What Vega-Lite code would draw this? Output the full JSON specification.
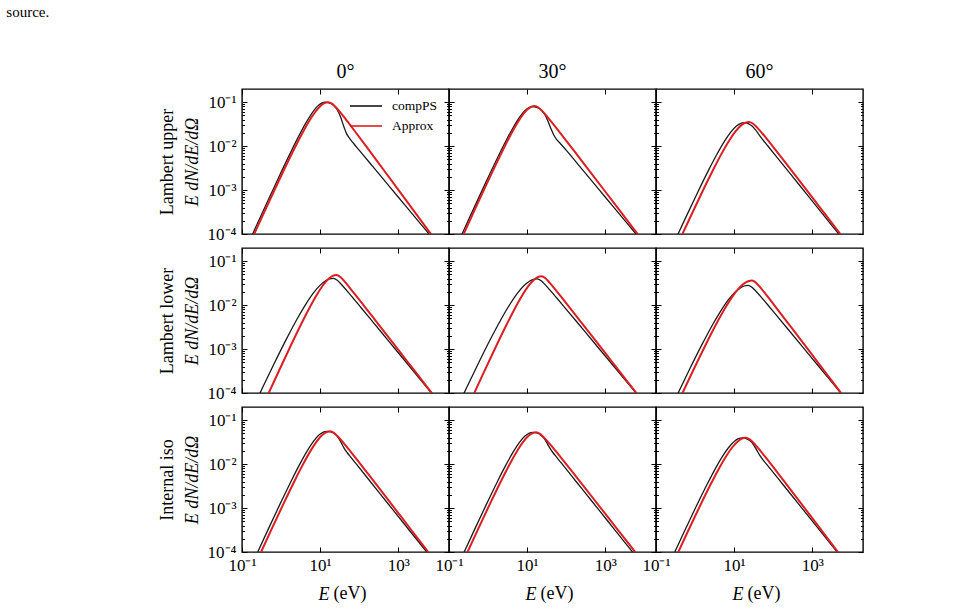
{
  "$schema": "https://vega.github.io/schema/vega-lite/v6.json",
  "background": "white",
  "padding": {"left": 6, "top": 4, "right": 10, "bottom": 4},
  "title": {"text": "source.", "anchor": "start", "frame": "group", "dx": -235.7, "fontSize": 15, "offset": 29, "baseline": "alphabetic"},
  "config": {
    "font": "Liberation Serif",
    "view": {"stroke": "black", "strokeWidth": 1.4},
    "axis": {"labelFont": "Liberation Serif", "labelFontSize": 17, "labelColor": "black", "titleFont": "Liberation Serif", "titleFontSize": 18, "titleFontWeight": "normal", "titleColor": "black", "tickColor": "black", "tickWidth": 1, "domain": false, "grid": false, "labelOverlap": false, "labelFlush": false, "minExtent": 0},
    "legend": {"labelFont": "Liberation Serif", "labelColor": "black"},
    "title": {"font": "Liberation Serif", "fontWeight": "normal", "color": "black"}
  },
  "datasets": {
    "spectra": [
      {"m":"upper","a":0,"s":"compPS","E":0.1072,"F":3.342e-5},{"m":"upper","a":0,"s":"compPS","E":0.2138,"F":1.294e-4},{"m":"upper","a":0,"s":"compPS","E":0.4266,"F":4.955e-4},{"m":"upper","a":0,"s":"compPS","E":0.8511,"F":1.862e-3},{"m":"upper","a":0,"s":"compPS","E":1.698,"F":6.761e-3},{"m":"upper","a":0,"s":"compPS","E":2.692,"F":0.01542},{"m":"upper","a":0,"s":"compPS","E":4.266,"F":0.03304},{"m":"upper","a":0,"s":"compPS","E":6.026,"F":0.05458},{"m":"upper","a":0,"s":"compPS","E":8.511,"F":0.08054},{"m":"upper","a":0,"s":"compPS","E":10.72,"F":0.09441},{"m":"upper","a":0,"s":"compPS","E":13.49,"F":0.1},{"m":"upper","a":0,"s":"compPS","E":16.98,"F":0.09661},{"m":"upper","a":0,"s":"compPS","E":21.38,"F":0.0871},{"m":"upper","a":0,"s":"compPS","E":26.92,"F":0.06918},{"m":"upper","a":0,"s":"compPS","E":33.88,"F":0.04467},{"m":"upper","a":0,"s":"compPS","E":40.74,"F":0.02754},{"m":"upper","a":0,"s":"compPS","E":47.86,"F":0.01905},{"m":"upper","a":0,"s":"compPS","E":57.54,"F":0.01479},{"m":"upper","a":0,"s":"compPS","E":72.44,"F":0.01148},{"m":"upper","a":0,"s":"compPS","E":100,"F":8.128e-3},{"m":"upper","a":0,"s":"compPS","E":251.2,"F":3.041e-3},{"m":"upper","a":0,"s":"compPS","E":631,"F":1.138e-3},{"m":"upper","a":0,"s":"compPS","E":1585,"F":4.266e-4},{"m":"upper","a":0,"s":"compPS","E":3981,"F":1.596e-4},{"m":"upper","a":0,"s":"compPS","E":6166,"F":1e-4},{"m":"upper","a":0,"s":"compPS","E":9550,"F":6.223e-5},
      {"m":"upper","a":0,"s":"Approx","E":0.1288,"F":4.027e-5},{"m":"upper","a":0,"s":"Approx","E":0.257,"F":1.545e-4},{"m":"upper","a":0,"s":"Approx","E":0.5129,"F":5.861e-4},{"m":"upper","a":0,"s":"Approx","E":1.023,"F":2.173e-3},{"m":"upper","a":0,"s":"Approx","E":2.042,"F":7.727e-3},{"m":"upper","a":0,"s":"Approx","E":3.236,"F":0.01722},{"m":"upper","a":0,"s":"Approx","E":5.129,"F":0.0359},{"m":"upper","a":0,"s":"Approx","E":7.244,"F":0.05754},{"m":"upper","a":0,"s":"Approx","E":10.23,"F":0.08222},{"m":"upper","a":0,"s":"Approx","E":12.88,"F":0.09506},{"m":"upper","a":0,"s":"Approx","E":16.22,"F":0.1},{"m":"upper","a":0,"s":"Approx","E":20.42,"F":0.09183},{"m":"upper","a":0,"s":"Approx","E":25.7,"F":0.07568},{"m":"upper","a":0,"s":"Approx","E":36.31,"F":0.0526},{"m":"upper","a":0,"s":"Approx","E":51.29,"F":0.03556},{"m":"upper","a":0,"s":"Approx","E":81.28,"F":0.0207},{"m":"upper","a":0,"s":"Approx","E":162.2,"F":9.12e-3},{"m":"upper","a":0,"s":"Approx","E":407.4,"F":3.02e-3},{"m":"upper","a":0,"s":"Approx","E":1023,"F":9.977e-4},{"m":"upper","a":0,"s":"Approx","E":2570,"F":3.289e-4},{"m":"upper","a":0,"s":"Approx","E":6457,"F":1.084e-4},{"m":"upper","a":0,"s":"Approx","E":16220,"F":3.573e-5},
      {"m":"upper","a":30,"s":"compPS","E":0.1096,"F":2.655e-5},{"m":"upper","a":30,"s":"compPS","E":0.2188,"F":1.028e-4},{"m":"upper","a":30,"s":"compPS","E":0.4365,"F":3.936e-4},{"m":"upper","a":30,"s":"compPS","E":0.871,"F":1.479e-3},{"m":"upper","a":30,"s":"compPS","E":1.738,"F":5.37e-3},{"m":"upper","a":30,"s":"compPS","E":2.754,"F":0.01225},{"m":"upper","a":30,"s":"compPS","E":4.365,"F":0.02624},{"m":"upper","a":30,"s":"compPS","E":6.166,"F":0.04335},{"m":"upper","a":30,"s":"compPS","E":8.71,"F":0.06397},{"m":"upper","a":30,"s":"compPS","E":10.96,"F":0.07499},{"m":"upper","a":30,"s":"compPS","E":13.8,"F":0.07943},{"m":"upper","a":30,"s":"compPS","E":17.38,"F":0.07674},{"m":"upper","a":30,"s":"compPS","E":21.88,"F":0.06918},{"m":"upper","a":30,"s":"compPS","E":27.54,"F":0.05495},{"m":"upper","a":30,"s":"compPS","E":33.88,"F":0.03802},{"m":"upper","a":30,"s":"compPS","E":40.74,"F":0.02512},{"m":"upper","a":30,"s":"compPS","E":47.86,"F":0.0182},{"m":"upper","a":30,"s":"compPS","E":57.54,"F":0.01413},{"m":"upper","a":30,"s":"compPS","E":72.44,"F":0.01122},{"m":"upper","a":30,"s":"compPS","E":100,"F":8.128e-3},{"m":"upper","a":30,"s":"compPS","E":251.2,"F":3.041e-3},{"m":"upper","a":30,"s":"compPS","E":631,"F":1.138e-3},{"m":"upper","a":30,"s":"compPS","E":1585,"F":4.266e-4},{"m":"upper","a":30,"s":"compPS","E":3981,"F":1.596e-4},{"m":"upper","a":30,"s":"compPS","E":6166,"F":1e-4},{"m":"upper","a":30,"s":"compPS","E":9550,"F":6.266e-5},
      {"m":"upper","a":30,"s":"Approx","E":0.123,"F":2.748e-5},{"m":"upper","a":30,"s":"Approx","E":0.2455,"F":1.064e-4},{"m":"upper","a":30,"s":"Approx","E":0.4898,"F":4.074e-4},{"m":"upper","a":30,"s":"Approx","E":0.9772,"F":1.531e-3},{"m":"upper","a":30,"s":"Approx","E":1.95,"F":5.559e-3},{"m":"upper","a":30,"s":"Approx","E":3.09,"F":0.01268},{"m":"upper","a":30,"s":"Approx","E":4.898,"F":0.02716},{"m":"upper","a":30,"s":"Approx","E":6.918,"F":0.04487},{"m":"upper","a":30,"s":"Approx","E":9.772,"F":0.06622},{"m":"upper","a":30,"s":"Approx","E":12.3,"F":0.07762},{"m":"upper","a":30,"s":"Approx","E":15.49,"F":0.08222},{"m":"upper","a":30,"s":"Approx","E":19.5,"F":0.07586},{"m":"upper","a":30,"s":"Approx","E":24.55,"F":0.06281},{"m":"upper","a":30,"s":"Approx","E":34.67,"F":0.04416},{"m":"upper","a":30,"s":"Approx","E":48.98,"F":0.0302},{"m":"upper","a":30,"s":"Approx","E":77.62,"F":0.0179},{"m":"upper","a":30,"s":"Approx","E":154.9,"F":8.091e-3},{"m":"upper","a":30,"s":"Approx","E":389,"F":2.78e-3},{"m":"upper","a":30,"s":"Approx","E":977.2,"F":9.528e-4},{"m":"upper","a":30,"s":"Approx","E":2455,"F":3.258e-4},{"m":"upper","a":30,"s":"Approx","E":6166,"F":1.112e-4},{"m":"upper","a":30,"s":"Approx","E":15490,"F":3.793e-5},
      {"m":"upper","a":60,"s":"compPS","E":0.2884,"F":6.295e-5},{"m":"upper","a":60,"s":"compPS","E":0.5754,"F":2.36e-4},{"m":"upper","a":60,"s":"compPS","E":1.148,"F":8.61e-4},{"m":"upper","a":60,"s":"compPS","E":2.291,"F":2.992e-3},{"m":"upper","a":60,"s":"compPS","E":3.631,"F":6.531e-3},{"m":"upper","a":60,"s":"compPS","E":5.754,"F":0.01321},{"m":"upper","a":60,"s":"compPS","E":8.128,"F":0.0206},{"m":"upper","a":60,"s":"compPS","E":11.48,"F":0.02871},{"m":"upper","a":60,"s":"compPS","E":14.45,"F":0.03273},{"m":"upper","a":60,"s":"compPS","E":18.2,"F":0.03428},{"m":"upper","a":60,"s":"compPS","E":22.91,"F":0.03273},{"m":"upper","a":60,"s":"compPS","E":28.84,"F":0.02884},{"m":"upper","a":60,"s":"compPS","E":35.48,"F":0.02344},{"m":"upper","a":60,"s":"compPS","E":43.65,"F":0.01799},{"m":"upper","a":60,"s":"compPS","E":54.95,"F":0.0138},{"m":"upper","a":60,"s":"compPS","E":72.44,"F":0.01023},{"m":"upper","a":60,"s":"compPS","E":177.8,"F":3.793e-3},{"m":"upper","a":60,"s":"compPS","E":446.7,"F":1.374e-3},{"m":"upper","a":60,"s":"compPS","E":1122,"F":4.966e-4},{"m":"upper","a":60,"s":"compPS","E":2818,"F":1.795e-4},{"m":"upper","a":60,"s":"compPS","E":4786,"F":1e-4},{"m":"upper","a":60,"s":"compPS","E":7244,"F":6.324e-5},
      {"m":"upper","a":60,"s":"Approx","E":0.3802,"F":6.516e-5},{"m":"upper","a":60,"s":"Approx","E":0.7586,"F":2.443e-4},{"m":"upper","a":60,"s":"Approx","E":1.514,"F":8.913e-4},{"m":"upper","a":60,"s":"Approx","E":3.02,"F":3.097e-3},{"m":"upper","a":60,"s":"Approx","E":4.786,"F":6.761e-3},{"m":"upper","a":60,"s":"Approx","E":7.586,"F":0.01368},{"m":"upper","a":60,"s":"Approx","E":10.72,"F":0.02133},{"m":"upper","a":60,"s":"Approx","E":15.14,"F":0.02972},{"m":"upper","a":60,"s":"Approx","E":19.05,"F":0.03388},{"m":"upper","a":60,"s":"Approx","E":23.99,"F":0.03548},{"m":"upper","a":60,"s":"Approx","E":30.2,"F":0.03273},{"m":"upper","a":60,"s":"Approx","E":38.02,"F":0.02716},{"m":"upper","a":60,"s":"Approx","E":53.7,"F":0.01914},{"m":"upper","a":60,"s":"Approx","E":75.86,"F":0.01312},{"m":"upper","a":60,"s":"Approx","E":120.2,"F":7.798e-3},{"m":"upper","a":60,"s":"Approx","E":239.9,"F":3.54e-3},{"m":"upper","a":60,"s":"Approx","E":602.6,"F":1.225e-3},{"m":"upper","a":60,"s":"Approx","E":1514,"F":4.217e-4},{"m":"upper","a":60,"s":"Approx","E":3802,"F":1.452e-4},{"m":"upper","a":60,"s":"Approx","E":9550,"F":4.989e-5},
      {"m":"lower","a":0,"s":"compPS","E":0.1738,"F":3.828e-5},{"m":"lower","a":0,"s":"compPS","E":0.3467,"F":1.403e-4},{"m":"lower","a":0,"s":"compPS","E":0.6918,"F":5.0e-4},{"m":"lower","a":0,"s":"compPS","E":1.38,"F":1.706e-3},{"m":"lower","a":0,"s":"compPS","E":2.754,"F":5.37e-3},{"m":"lower","a":0,"s":"compPS","E":4.365,"F":0.01072},{"m":"lower","a":0,"s":"compPS","E":6.918,"F":0.0195},{"m":"lower","a":0,"s":"compPS","E":9.772,"F":0.02786},{"m":"lower","a":0,"s":"compPS","E":13.8,"F":0.03581},{"m":"lower","a":0,"s":"compPS","E":17.38,"F":0.03945},{"m":"lower","a":0,"s":"compPS","E":21.88,"F":0.04074},{"m":"lower","a":0,"s":"compPS","E":27.54,"F":0.03673},{"m":"lower","a":0,"s":"compPS","E":34.67,"F":0.02992},{"m":"lower","a":0,"s":"compPS","E":48.98,"F":0.02109},{"m":"lower","a":0,"s":"compPS","E":69.18,"F":0.01466},{"m":"lower","a":0,"s":"compPS","E":109.6,"F":8.974e-3},{"m":"lower","a":0,"s":"compPS","E":218.8,"F":4.276e-3},{"m":"lower","a":0,"s":"compPS","E":549.5,"F":1.581e-3},{"m":"lower","a":0,"s":"compPS","E":1380,"F":5.861e-4},{"m":"lower","a":0,"s":"compPS","E":3467,"F":2.163e-4},{"m":"lower","a":0,"s":"compPS","E":8710,"F":7.998e-5},
      {"m":"lower","a":0,"s":"Approx","E":0.4169,"F":7.516e-5},{"m":"lower","a":0,"s":"Approx","E":0.8318,"F":2.851e-4},{"m":"lower","a":0,"s":"Approx","E":1.66,"F":1.057e-3},{"m":"lower","a":0,"s":"Approx","E":3.311,"F":3.758e-3},{"m":"lower","a":0,"s":"Approx","E":5.248,"F":8.375e-3},{"m":"lower","a":0,"s":"Approx","E":8.318,"F":0.01746},{"m":"lower","a":0,"s":"Approx","E":11.75,"F":0.02799},{"m":"lower","a":0,"s":"Approx","E":16.6,"F":0.03999},{"m":"lower","a":0,"s":"Approx","E":20.89,"F":0.04624},{"m":"lower","a":0,"s":"Approx","E":26.3,"F":0.04864},{"m":"lower","a":0,"s":"Approx","E":33.11,"F":0.04355},{"m":"lower","a":0,"s":"Approx","E":41.69,"F":0.03508},{"m":"lower","a":0,"s":"Approx","E":58.88,"F":0.02421},{"m":"lower","a":0,"s":"Approx","E":83.18,"F":0.01648},{"m":"lower","a":0,"s":"Approx","E":131.8,"F":9.795e-3},{"m":"lower","a":0,"s":"Approx","E":263,"F":4.457e-3},{"m":"lower","a":0,"s":"Approx","E":660.7,"F":1.556e-3},{"m":"lower","a":0,"s":"Approx","E":1660,"F":5.42e-4},{"m":"lower","a":0,"s":"Approx","E":4169,"F":1.888e-4},{"m":"lower","a":0,"s":"Approx","E":10470,"F":6.561e-5},
      {"m":"lower","a":30,"s":"compPS","E":0.1445,"F":3.741e-5},{"m":"lower","a":30,"s":"compPS","E":0.2884,"F":1.371e-4},{"m":"lower","a":30,"s":"compPS","E":0.5754,"F":4.887e-4},{"m":"lower","a":30,"s":"compPS","E":1.148,"F":1.667e-3},{"m":"lower","a":30,"s":"compPS","E":2.291,"F":5.248e-3},{"m":"lower","a":30,"s":"compPS","E":3.631,"F":0.01047},{"m":"lower","a":30,"s":"compPS","E":5.754,"F":0.01905},{"m":"lower","a":30,"s":"compPS","E":8.128,"F":0.02723},{"m":"lower","a":30,"s":"compPS","E":11.48,"F":0.03499},{"m":"lower","a":30,"s":"compPS","E":14.45,"F":0.03855},{"m":"lower","a":30,"s":"compPS","E":18.2,"F":0.03981},{"m":"lower","a":30,"s":"compPS","E":22.91,"F":0.03597},{"m":"lower","a":30,"s":"compPS","E":28.84,"F":0.02938},{"m":"lower","a":30,"s":"compPS","E":40.74,"F":0.0208},{"m":"lower","a":30,"s":"compPS","E":57.54,"F":0.01452},{"m":"lower","a":30,"s":"compPS","E":91.2,"F":8.933e-3},{"m":"lower","a":30,"s":"compPS","E":182,"F":4.295e-3},{"m":"lower","a":30,"s":"compPS","E":457.1,"F":1.607e-3},{"m":"lower","a":30,"s":"compPS","E":1148,"F":6.026e-4},{"m":"lower","a":30,"s":"compPS","E":2884,"F":2.254e-4},{"m":"lower","a":30,"s":"compPS","E":7244,"F":8.414e-5},
      {"m":"lower","a":30,"s":"Approx","E":0.3715,"F":7.063e-5},{"m":"lower","a":30,"s":"Approx","E":0.7413,"F":2.679e-4},{"m":"lower","a":30,"s":"Approx","E":1.479,"F":9.931e-4},{"m":"lower","a":30,"s":"Approx","E":2.951,"F":3.532e-3},{"m":"lower","a":30,"s":"Approx","E":4.677,"F":7.87e-3},{"m":"lower","a":30,"s":"Approx","E":7.413,"F":0.01641},{"m":"lower","a":30,"s":"Approx","E":10.47,"F":0.0263},{"m":"lower","a":30,"s":"Approx","E":14.79,"F":0.03758},{"m":"lower","a":30,"s":"Approx","E":18.62,"F":0.04345},{"m":"lower","a":30,"s":"Approx","E":23.44,"F":0.04571},{"m":"lower","a":30,"s":"Approx","E":29.51,"F":0.04102},{"m":"lower","a":30,"s":"Approx","E":37.15,"F":0.03304},{"m":"lower","a":30,"s":"Approx","E":52.48,"F":0.02286},{"m":"lower","a":30,"s":"Approx","E":74.13,"F":0.01556},{"m":"lower","a":30,"s":"Approx","E":117.5,"F":9.268e-3},{"m":"lower","a":30,"s":"Approx","E":234.4,"F":4.236e-3},{"m":"lower","a":30,"s":"Approx","E":588.8,"F":1.489e-3},{"m":"lower","a":30,"s":"Approx","E":1479,"F":5.212e-4},{"m":"lower","a":30,"s":"Approx","E":3715,"F":1.824e-4},{"m":"lower","a":30,"s":"Approx","E":9333,"F":6.383e-5},
      {"m":"lower","a":60,"s":"compPS","E":0.182,"F":2.649e-5},{"m":"lower","a":60,"s":"compPS","E":0.3631,"F":9.705e-5},{"m":"lower","a":60,"s":"compPS","E":0.7244,"F":3.459e-4},{"m":"lower","a":60,"s":"compPS","E":1.445,"F":1.18e-3},{"m":"lower","a":60,"s":"compPS","E":2.884,"F":3.715e-3},{"m":"lower","a":60,"s":"compPS","E":4.571,"F":7.413e-3},{"m":"lower","a":60,"s":"compPS","E":7.244,"F":0.01349},{"m":"lower","a":60,"s":"compPS","E":10.23,"F":0.01928},{"m":"lower","a":60,"s":"compPS","E":14.45,"F":0.02477},{"m":"lower","a":60,"s":"compPS","E":18.2,"F":0.02729},{"m":"lower","a":60,"s":"compPS","E":22.91,"F":0.02818},{"m":"lower","a":60,"s":"compPS","E":28.84,"F":0.02541},{"m":"lower","a":60,"s":"compPS","E":36.31,"F":0.02075},{"m":"lower","a":60,"s":"compPS","E":51.29,"F":0.01462},{"m":"lower","a":60,"s":"compPS","E":72.44,"F":0.01019},{"m":"lower","a":60,"s":"compPS","E":114.8,"F":6.237e-3},{"m":"lower","a":60,"s":"compPS","E":229.1,"F":2.979e-3},{"m":"lower","a":60,"s":"compPS","E":575.4,"F":1.109e-3},{"m":"lower","a":60,"s":"compPS","E":1445,"F":4.111e-4},{"m":"lower","a":60,"s":"compPS","E":3631,"F":1.528e-4},{"m":"lower","a":60,"s":"compPS","E":9120,"F":5.662e-5},
      {"m":"lower","a":60,"s":"Approx","E":0.2291,"F":2.466e-5},{"m":"lower","a":60,"s":"Approx","E":0.4571,"F":9.226e-5},{"m":"lower","a":60,"s":"Approx","E":0.912,"F":3.381e-4},{"m":"lower","a":60,"s":"Approx","E":1.82,"F":1.194e-3},{"m":"lower","a":60,"s":"Approx","E":3.631,"F":3.954e-3},{"m":"lower","a":60,"s":"Approx","E":5.754,"F":8.241e-3},{"m":"lower","a":60,"s":"Approx","E":9.12,"F":0.01578},{"m":"lower","a":60,"s":"Approx","E":12.88,"F":0.0235},{"m":"lower","a":60,"s":"Approx","E":18.2,"F":0.03126},{"m":"lower","a":60,"s":"Approx","E":22.91,"F":0.03491},{"m":"lower","a":60,"s":"Approx","E":28.84,"F":0.03631},{"m":"lower","a":60,"s":"Approx","E":36.31,"F":0.03243},{"m":"lower","a":60,"s":"Approx","E":45.71,"F":0.026},{"m":"lower","a":60,"s":"Approx","E":64.57,"F":0.01778},{"m":"lower","a":60,"s":"Approx","E":91.2,"F":0.01199},{"m":"lower","a":60,"s":"Approx","E":144.5,"F":7.047e-3},{"m":"lower","a":60,"s":"Approx","E":288.4,"F":3.148e-3},{"m":"lower","a":60,"s":"Approx","E":724.4,"F":1.074e-3},{"m":"lower","a":60,"s":"Approx","E":1820,"F":3.656e-4},{"m":"lower","a":60,"s":"Approx","E":4571,"F":1.242e-4},{"m":"lower","a":60,"s":"Approx","E":11480,"F":4.217e-5},
      {"m":"iso","a":0,"s":"compPS","E":0.2344,"F":8.63e-5},{"m":"iso","a":0,"s":"compPS","E":0.4677,"F":3.273e-4},{"m":"iso","a":0,"s":"compPS","E":0.9333,"F":1.213e-3},{"m":"iso","a":0,"s":"compPS","E":1.862,"F":4.315e-3},{"m":"iso","a":0,"s":"compPS","E":2.951,"F":9.616e-3},{"m":"iso","a":0,"s":"compPS","E":4.677,"F":0.02004},{"m":"iso","a":0,"s":"compPS","E":6.607,"F":0.03214},{"m":"iso","a":0,"s":"compPS","E":9.333,"F":0.04592},{"m":"iso","a":0,"s":"compPS","E":11.75,"F":0.05309},{"m":"iso","a":0,"s":"compPS","E":14.79,"F":0.05585},{"m":"iso","a":0,"s":"compPS","E":18.62,"F":0.05395},{"m":"iso","a":0,"s":"compPS","E":23.44,"F":0.049},{"m":"iso","a":0,"s":"compPS","E":28.84,"F":0.04074},{"m":"iso","a":0,"s":"compPS","E":34.67,"F":0.0309},{"m":"iso","a":0,"s":"compPS","E":40.74,"F":0.02344},{"m":"iso","a":0,"s":"compPS","E":48.98,"F":0.01841},{"m":"iso","a":0,"s":"compPS","E":61.66,"F":0.01429},{"m":"iso","a":0,"s":"compPS","E":83.18,"F":0.01023},{"m":"iso","a":0,"s":"compPS","E":199.5,"F":3.873e-3},{"m":"iso","a":0,"s":"compPS","E":501.2,"F":1.393e-3},{"m":"iso","a":0,"s":"compPS","E":1259,"F":5.012e-4},{"m":"iso","a":0,"s":"compPS","E":3162,"F":1.803e-4},{"m":"iso","a":0,"s":"compPS","E":5370,"F":1e-4},{"m":"iso","a":0,"s":"compPS","E":7943,"F":6.486e-5},
      {"m":"iso","a":0,"s":"Approx","E":0.2851,"F":8.63e-5},{"m":"iso","a":0,"s":"Approx","E":0.5689,"F":3.273e-4},{"m":"iso","a":0,"s":"Approx","E":1.135,"F":1.213e-3},{"m":"iso","a":0,"s":"Approx","E":2.265,"F":4.315e-3},{"m":"iso","a":0,"s":"Approx","E":3.589,"F":9.616e-3},{"m":"iso","a":0,"s":"Approx","E":5.689,"F":0.02004},{"m":"iso","a":0,"s":"Approx","E":8.035,"F":0.03214},{"m":"iso","a":0,"s":"Approx","E":11.35,"F":0.04592},{"m":"iso","a":0,"s":"Approx","E":14.29,"F":0.05309},{"m":"iso","a":0,"s":"Approx","E":17.99,"F":0.05585},{"m":"iso","a":0,"s":"Approx","E":22.65,"F":0.05152},{"m":"iso","a":0,"s":"Approx","E":28.51,"F":0.04276},{"m":"iso","a":0,"s":"Approx","E":40.27,"F":0.03013},{"m":"iso","a":0,"s":"Approx","E":56.89,"F":0.02065},{"m":"iso","a":0,"s":"Approx","E":90.16,"F":0.01233},{"m":"iso","a":0,"s":"Approx","E":179.9,"F":5.598e-3},{"m":"iso","a":0,"s":"Approx","E":451.9,"F":1.941e-3},{"m":"iso","a":0,"s":"Approx","E":1135,"F":6.699e-4},{"m":"iso","a":0,"s":"Approx","E":2851,"F":2.307e-4},{"m":"iso","a":0,"s":"Approx","E":7161,"F":7.943e-5},
      {"m":"iso","a":30,"s":"compPS","E":0.2213,"F":8.185e-5},{"m":"iso","a":30,"s":"compPS","E":0.4416,"F":3.105e-4},{"m":"iso","a":30,"s":"compPS","E":0.881,"F":1.151e-3},{"m":"iso","a":30,"s":"compPS","E":1.758,"F":4.093e-3},{"m":"iso","a":30,"s":"compPS","E":2.786,"F":9.12e-3},{"m":"iso","a":30,"s":"compPS","E":4.416,"F":0.01901},{"m":"iso","a":30,"s":"compPS","E":6.237,"F":0.03048},{"m":"iso","a":30,"s":"compPS","E":8.81,"F":0.04355},{"m":"iso","a":30,"s":"compPS","E":11.09,"F":0.05035},{"m":"iso","a":30,"s":"compPS","E":13.96,"F":0.05297},{"m":"iso","a":30,"s":"compPS","E":17.58,"F":0.05117},{"m":"iso","a":30,"s":"compPS","E":22.13,"F":0.04624},{"m":"iso","a":30,"s":"compPS","E":27.23,"F":0.03846},{"m":"iso","a":30,"s":"compPS","E":32.36,"F":0.0302},{"m":"iso","a":30,"s":"compPS","E":38.02,"F":0.02344},{"m":"iso","a":30,"s":"compPS","E":45.71,"F":0.01841},{"m":"iso","a":30,"s":"compPS","E":57.54,"F":0.01429},{"m":"iso","a":30,"s":"compPS","E":77.62,"F":0.01023},{"m":"iso","a":30,"s":"compPS","E":186.2,"F":3.873e-3},{"m":"iso","a":30,"s":"compPS","E":467.7,"F":1.393e-3},{"m":"iso","a":30,"s":"compPS","E":1175,"F":5.012e-4},{"m":"iso","a":30,"s":"compPS","E":2951,"F":1.799e-4},{"m":"iso","a":30,"s":"compPS","E":5012,"F":1e-4},{"m":"iso","a":30,"s":"compPS","E":7586,"F":6.31e-5},
      {"m":"iso","a":30,"s":"Approx","E":0.2692,"F":8.185e-5},{"m":"iso","a":30,"s":"Approx","E":0.537,"F":3.105e-4},{"m":"iso","a":30,"s":"Approx","E":1.072,"F":1.151e-3},{"m":"iso","a":30,"s":"Approx","E":2.138,"F":4.093e-3},{"m":"iso","a":30,"s":"Approx","E":3.388,"F":9.12e-3},{"m":"iso","a":30,"s":"Approx","E":5.37,"F":0.01901},{"m":"iso","a":30,"s":"Approx","E":7.586,"F":0.03048},{"m":"iso","a":30,"s":"Approx","E":10.72,"F":0.04355},{"m":"iso","a":30,"s":"Approx","E":13.49,"F":0.05035},{"m":"iso","a":30,"s":"Approx","E":16.98,"F":0.05297},{"m":"iso","a":30,"s":"Approx","E":21.38,"F":0.04887},{"m":"iso","a":30,"s":"Approx","E":26.92,"F":0.04074},{"m":"iso","a":30,"s":"Approx","E":38.02,"F":0.02891},{"m":"iso","a":30,"s":"Approx","E":53.7,"F":0.02},{"m":"iso","a":30,"s":"Approx","E":85.11,"F":0.01202},{"m":"iso","a":30,"s":"Approx","E":169.8,"F":5.546e-3},{"m":"iso","a":30,"s":"Approx","E":426.6,"F":1.959e-3},{"m":"iso","a":30,"s":"Approx","E":1072,"F":6.902e-4},{"m":"iso","a":30,"s":"Approx","E":2692,"F":2.427e-4},{"m":"iso","a":30,"s":"Approx","E":6761,"F":8.531e-5},
      {"m":"iso","a":60,"s":"compPS","E":0.257,"F":7.311e-5},{"m":"iso","a":60,"s":"compPS","E":0.5129,"F":2.742e-4},{"m":"iso","a":60,"s":"compPS","E":1.023,"F":1e-3},{"m":"iso","a":60,"s":"compPS","E":2.042,"F":3.475e-3},{"m":"iso","a":60,"s":"compPS","E":3.236,"F":7.586e-3},{"m":"iso","a":60,"s":"compPS","E":5.129,"F":0.01535},{"m":"iso","a":60,"s":"compPS","E":7.244,"F":0.02393},{"m":"iso","a":60,"s":"compPS","E":10.23,"F":0.03334},{"m":"iso","a":60,"s":"compPS","E":12.88,"F":0.03802},{"m":"iso","a":60,"s":"compPS","E":16.22,"F":0.03981},{"m":"iso","a":60,"s":"compPS","E":20.42,"F":0.0382},{"m":"iso","a":60,"s":"compPS","E":25.7,"F":0.03388},{"m":"iso","a":60,"s":"compPS","E":31.62,"F":0.02754},{"m":"iso","a":60,"s":"compPS","E":38.02,"F":0.02089},{"m":"iso","a":60,"s":"compPS","E":44.67,"F":0.01622},{"m":"iso","a":60,"s":"compPS","E":53.7,"F":0.01288},{"m":"iso","a":60,"s":"compPS","E":69.18,"F":9.772e-3},{"m":"iso","a":60,"s":"compPS","E":173.8,"F":3.532e-3},{"m":"iso","a":60,"s":"compPS","E":436.5,"F":1.274e-3},{"m":"iso","a":60,"s":"compPS","E":1096,"F":4.603e-4},{"m":"iso","a":60,"s":"compPS","E":2754,"F":1.663e-4},{"m":"iso","a":60,"s":"compPS","E":4365,"F":1e-4},{"m":"iso","a":60,"s":"compPS","E":6607,"F":6.324e-5},
      {"m":"iso","a":60,"s":"Approx","E":0.3162,"F":7.311e-5},{"m":"iso","a":60,"s":"Approx","E":0.631,"F":2.742e-4},{"m":"iso","a":60,"s":"Approx","E":1.259,"F":1e-3},{"m":"iso","a":60,"s":"Approx","E":2.512,"F":3.475e-3},{"m":"iso","a":60,"s":"Approx","E":3.981,"F":7.586e-3},{"m":"iso","a":60,"s":"Approx","E":6.31,"F":0.01535},{"m":"iso","a":60,"s":"Approx","E":8.913,"F":0.02393},{"m":"iso","a":60,"s":"Approx","E":12.59,"F":0.03334},{"m":"iso","a":60,"s":"Approx","E":15.85,"F":0.03802},{"m":"iso","a":60,"s":"Approx","E":19.95,"F":0.03981},{"m":"iso","a":60,"s":"Approx","E":25.12,"F":0.03664},{"m":"iso","a":60,"s":"Approx","E":31.62,"F":0.03041},{"m":"iso","a":60,"s":"Approx","E":44.67,"F":0.02133},{"m":"iso","a":60,"s":"Approx","E":63.1,"F":0.01455},{"m":"iso","a":60,"s":"Approx","E":100,"F":8.63e-3},{"m":"iso","a":60,"s":"Approx","E":199.5,"F":3.882e-3},{"m":"iso","a":60,"s":"Approx","E":501.2,"F":1.327e-3},{"m":"iso","a":60,"s":"Approx","E":1259,"F":4.529e-4},{"m":"iso","a":60,"s":"Approx","E":3162,"F":1.538e-4},{"m":"iso","a":60,"s":"Approx","E":7943,"F":5.236e-5}
    ]
  },
  "columns": 3,
  "bounds": "flush",
  "spacing": {"row": 14, "column": 0},
  "resolve": {"scale": {"color": "independent"}, "legend": {"color": "independent"}},
  "concat": [
    {
      "width": 207, "height": 145,
      "title": {"text": "0°", "fontSize": 20, "offset": -9, "baseline": "alphabetic"},
      "data": {"name": "spectra"},
      "transform": [{"filter": "datum.m=='upper' && datum.a==0"}],
      "layer": [
        {"transform": [{"filter": "datum.s=='compPS'"}],
         "mark": {"type": "line", "clip": true, "interpolate": "monotone", "strokeWidth": 1.3},
         "encoding": {
           "x": {"field": "E", "type": "quantitative", "scale": {"type": "log", "domain": [0.1, 20000], "nice": false}, "axis": {"orient": "bottom", "values": [0.1, 10, 1000], "tickSize": -5, "labels": false, "title": null}},
           "y": {"field": "F", "type": "quantitative", "scale": {"type": "log", "domain": [0.0001, 0.2], "nice": false}, "axis": {"orient": "left", "values": [0.0001,0.0002,0.0003,0.0004,0.0005,0.0006,0.0007,0.0008,0.0009,0.001,0.002,0.003,0.004,0.005,0.006,0.007,0.008,0.009,0.01,0.02,0.03,0.04,0.05,0.06,0.07,0.08,0.09,0.1], "tickSize": {"condition": {"test": "datum.value==0.1||datum.value==0.01||datum.value==0.001||datum.value==0.0001", "value": -5}, "value": -2.5}, "labelPadding": 11, "labelExpr": "datum.value==0.1?'10⁻¹':datum.value==0.01?'10⁻²':datum.value==0.001?'10⁻³':datum.value==0.0001?'10⁻⁴':''", "title": "E dN/dE/dΩ", "titleFontStyle": "italic", "titlePadding": 6}},
           "color": {"field": "s", "type": "nominal", "scale": {"domain": ["compPS", "Approx"], "range": ["#1a1a1a", "#dc1e23"]}, "legend": {"title": null, "orient": "none", "legendX": 107, "legendY": 10, "symbolType": "stroke", "symbolSize": 1024, "symbolStrokeWidth": 1.6, "labelFontSize": 13.5, "labelOffset": 9, "rowPadding": 6, "clipHeight": 14, "padding": 0}}
         }},
        {"transform": [{"filter": "datum.s=='Approx'"}],
         "mark": {"type": "line", "clip": true, "interpolate": "monotone", "strokeWidth": 2},
         "encoding": {
           "x": {"field": "E", "type": "quantitative", "axis": {"orient": "top", "values": [0.1, 10, 1000], "tickSize": -5, "labels": false, "title": null}},
           "y": {"field": "F", "type": "quantitative", "axis": {"orient": "right", "values": [0.0001,0.0002,0.0003,0.0004,0.0005,0.0006,0.0007,0.0008,0.0009,0.001,0.002,0.003,0.004,0.005,0.006,0.007,0.008,0.009,0.01,0.02,0.03,0.04,0.05,0.06,0.07,0.08,0.09,0.1], "tickSize": {"condition": {"test": "datum.value==0.1||datum.value==0.01||datum.value==0.001||datum.value==0.0001", "value": -5}, "value": -2.5}, "labels": false, "title": null}},
           "color": {"field": "s", "type": "nominal", "scale": {"domain": ["compPS", "Approx"], "range": ["#1a1a1a", "#dc1e23"]}, "legend": null}
         }},
        {"mark": {"type": "line", "clip": true, "opacity": 0},
         "encoding": {
           "x": {"field": "E", "type": "quantitative", "axis": null},
           "y": {"field": "F", "type": "quantitative", "axis": {"orient": "left", "ticks": false, "labels": false, "title": "Lambert upper", "titlePadding": 66}},
           "detail": {"field": "s"}
         }}
      ],
      "resolve": {"axis": {"x": "independent", "y": "independent"}}
    },
    {
      "width": 207, "height": 145,
      "title": {"text": "30°", "fontSize": 20, "offset": -9, "baseline": "alphabetic"},
      "data": {"name": "spectra"},
      "transform": [{"filter": "datum.m=='upper' && datum.a==30"}],
      "layer": [
        {"transform": [{"filter": "datum.s=='compPS'"}],
         "mark": {"type": "line", "clip": true, "interpolate": "monotone", "strokeWidth": 1.3},
         "encoding": {
           "x": {"field": "E", "type": "quantitative", "scale": {"type": "log", "domain": [0.1, 20000], "nice": false}, "axis": {"orient": "bottom", "values": [0.1, 10, 1000], "tickSize": -5, "labels": false, "title": null}},
           "y": {"field": "F", "type": "quantitative", "scale": {"type": "log", "domain": [0.0001, 0.2], "nice": false}, "axis": {"orient": "left", "values": [0.0001,0.0002,0.0003,0.0004,0.0005,0.0006,0.0007,0.0008,0.0009,0.001,0.002,0.003,0.004,0.005,0.006,0.007,0.008,0.009,0.01,0.02,0.03,0.04,0.05,0.06,0.07,0.08,0.09,0.1], "tickSize": {"condition": {"test": "datum.value==0.1||datum.value==0.01||datum.value==0.001||datum.value==0.0001", "value": -5}, "value": -2.5}, "labels": false, "title": null}},
           "color": {"field": "s", "type": "nominal", "scale": {"domain": ["compPS", "Approx"], "range": ["#1a1a1a", "#dc1e23"]}, "legend": null}
         }},
        {"transform": [{"filter": "datum.s=='Approx'"}],
         "mark": {"type": "line", "clip": true, "interpolate": "monotone", "strokeWidth": 2},
         "encoding": {
           "x": {"field": "E", "type": "quantitative", "axis": {"orient": "top", "values": [0.1, 10, 1000], "tickSize": -5, "labels": false, "title": null}},
           "y": {"field": "F", "type": "quantitative", "axis": {"orient": "right", "values": [0.0001,0.0002,0.0003,0.0004,0.0005,0.0006,0.0007,0.0008,0.0009,0.001,0.002,0.003,0.004,0.005,0.006,0.007,0.008,0.009,0.01,0.02,0.03,0.04,0.05,0.06,0.07,0.08,0.09,0.1], "tickSize": {"condition": {"test": "datum.value==0.1||datum.value==0.01||datum.value==0.001||datum.value==0.0001", "value": -5}, "value": -2.5}, "labels": false, "title": null}},
           "color": {"field": "s", "type": "nominal", "scale": {"domain": ["compPS", "Approx"], "range": ["#1a1a1a", "#dc1e23"]}, "legend": null}
         }}
      ],
      "resolve": {"axis": {"x": "independent", "y": "independent"}}
    },
    {
      "width": 207, "height": 145,
      "title": {"text": "60°", "fontSize": 20, "offset": -9, "baseline": "alphabetic"},
      "data": {"name": "spectra"},
      "transform": [{"filter": "datum.m=='upper' && datum.a==60"}],
      "layer": [
        {"transform": [{"filter": "datum.s=='compPS'"}],
         "mark": {"type": "line", "clip": true, "interpolate": "monotone", "strokeWidth": 1.3},
         "encoding": {
           "x": {"field": "E", "type": "quantitative", "scale": {"type": "log", "domain": [0.1, 20000], "nice": false}, "axis": {"orient": "bottom", "values": [0.1, 10, 1000], "tickSize": -5, "labels": false, "title": null}},
           "y": {"field": "F", "type": "quantitative", "scale": {"type": "log", "domain": [0.0001, 0.2], "nice": false}, "axis": {"orient": "left", "values": [0.0001,0.0002,0.0003,0.0004,0.0005,0.0006,0.0007,0.0008,0.0009,0.001,0.002,0.003,0.004,0.005,0.006,0.007,0.008,0.009,0.01,0.02,0.03,0.04,0.05,0.06,0.07,0.08,0.09,0.1], "tickSize": {"condition": {"test": "datum.value==0.1||datum.value==0.01||datum.value==0.001||datum.value==0.0001", "value": -5}, "value": -2.5}, "labels": false, "title": null}},
           "color": {"field": "s", "type": "nominal", "scale": {"domain": ["compPS", "Approx"], "range": ["#1a1a1a", "#dc1e23"]}, "legend": null}
         }},
        {"transform": [{"filter": "datum.s=='Approx'"}],
         "mark": {"type": "line", "clip": true, "interpolate": "monotone", "strokeWidth": 2},
         "encoding": {
           "x": {"field": "E", "type": "quantitative", "axis": {"orient": "top", "values": [0.1, 10, 1000], "tickSize": -5, "labels": false, "title": null}},
           "y": {"field": "F", "type": "quantitative", "axis": {"orient": "right", "values": [0.0001,0.0002,0.0003,0.0004,0.0005,0.0006,0.0007,0.0008,0.0009,0.001,0.002,0.003,0.004,0.005,0.006,0.007,0.008,0.009,0.01,0.02,0.03,0.04,0.05,0.06,0.07,0.08,0.09,0.1], "tickSize": {"condition": {"test": "datum.value==0.1||datum.value==0.01||datum.value==0.001||datum.value==0.0001", "value": -5}, "value": -2.5}, "labels": false, "title": null}},
           "color": {"field": "s", "type": "nominal", "scale": {"domain": ["compPS", "Approx"], "range": ["#1a1a1a", "#dc1e23"]}, "legend": null}
         }}
      ],
      "resolve": {"axis": {"x": "independent", "y": "independent"}}
    },
    {
      "width": 207, "height": 145,
      "data": {"name": "spectra"},
      "transform": [{"filter": "datum.m=='lower' && datum.a==0"}],
      "layer": [
        {"transform": [{"filter": "datum.s=='compPS'"}],
         "mark": {"type": "line", "clip": true, "interpolate": "monotone", "strokeWidth": 1.3},
         "encoding": {
           "x": {"field": "E", "type": "quantitative", "scale": {"type": "log", "domain": [0.1, 20000], "nice": false}, "axis": {"orient": "bottom", "values": [0.1, 10, 1000], "tickSize": -5, "labels": false, "title": null}},
           "y": {"field": "F", "type": "quantitative", "scale": {"type": "log", "domain": [0.0001, 0.2], "nice": false}, "axis": {"orient": "left", "values": [0.0001,0.0002,0.0003,0.0004,0.0005,0.0006,0.0007,0.0008,0.0009,0.001,0.002,0.003,0.004,0.005,0.006,0.007,0.008,0.009,0.01,0.02,0.03,0.04,0.05,0.06,0.07,0.08,0.09,0.1], "tickSize": {"condition": {"test": "datum.value==0.1||datum.value==0.01||datum.value==0.001||datum.value==0.0001", "value": -5}, "value": -2.5}, "labelPadding": 11, "labelExpr": "datum.value==0.1?'10⁻¹':datum.value==0.01?'10⁻²':datum.value==0.001?'10⁻³':datum.value==0.0001?'10⁻⁴':''", "title": "E dN/dE/dΩ", "titleFontStyle": "italic", "titlePadding": 6}},
           "color": {"field": "s", "type": "nominal", "scale": {"domain": ["compPS", "Approx"], "range": ["#1a1a1a", "#dc1e23"]}, "legend": null}
         }},
        {"transform": [{"filter": "datum.s=='Approx'"}],
         "mark": {"type": "line", "clip": true, "interpolate": "monotone", "strokeWidth": 2},
         "encoding": {
           "x": {"field": "E", "type": "quantitative", "axis": {"orient": "top", "values": [0.1, 10, 1000], "tickSize": -5, "labels": false, "title": null}},
           "y": {"field": "F", "type": "quantitative", "axis": {"orient": "right", "values": [0.0001,0.0002,0.0003,0.0004,0.0005,0.0006,0.0007,0.0008,0.0009,0.001,0.002,0.003,0.004,0.005,0.006,0.007,0.008,0.009,0.01,0.02,0.03,0.04,0.05,0.06,0.07,0.08,0.09,0.1], "tickSize": {"condition": {"test": "datum.value==0.1||datum.value==0.01||datum.value==0.001||datum.value==0.0001", "value": -5}, "value": -2.5}, "labels": false, "title": null}},
           "color": {"field": "s", "type": "nominal", "scale": {"domain": ["compPS", "Approx"], "range": ["#1a1a1a", "#dc1e23"]}, "legend": null}
         }},
        {"mark": {"type": "line", "clip": true, "opacity": 0},
         "encoding": {
           "x": {"field": "E", "type": "quantitative", "axis": null},
           "y": {"field": "F", "type": "quantitative", "axis": {"orient": "left", "ticks": false, "labels": false, "title": "Lambert lower", "titlePadding": 66}},
           "detail": {"field": "s"}
         }}
      ],
      "resolve": {"axis": {"x": "independent", "y": "independent"}}
    },
    {
      "width": 207, "height": 145,
      "data": {"name": "spectra"},
      "transform": [{"filter": "datum.m=='lower' && datum.a==30"}],
      "layer": [
        {"transform": [{"filter": "datum.s=='compPS'"}],
         "mark": {"type": "line", "clip": true, "interpolate": "monotone", "strokeWidth": 1.3},
         "encoding": {
           "x": {"field": "E", "type": "quantitative", "scale": {"type": "log", "domain": [0.1, 20000], "nice": false}, "axis": {"orient": "bottom", "values": [0.1, 10, 1000], "tickSize": -5, "labels": false, "title": null}},
           "y": {"field": "F", "type": "quantitative", "scale": {"type": "log", "domain": [0.0001, 0.2], "nice": false}, "axis": {"orient": "left", "values": [0.0001,0.0002,0.0003,0.0004,0.0005,0.0006,0.0007,0.0008,0.0009,0.001,0.002,0.003,0.004,0.005,0.006,0.007,0.008,0.009,0.01,0.02,0.03,0.04,0.05,0.06,0.07,0.08,0.09,0.1], "tickSize": {"condition": {"test": "datum.value==0.1||datum.value==0.01||datum.value==0.001||datum.value==0.0001", "value": -5}, "value": -2.5}, "labels": false, "title": null}},
           "color": {"field": "s", "type": "nominal", "scale": {"domain": ["compPS", "Approx"], "range": ["#1a1a1a", "#dc1e23"]}, "legend": null}
         }},
        {"transform": [{"filter": "datum.s=='Approx'"}],
         "mark": {"type": "line", "clip": true, "interpolate": "monotone", "strokeWidth": 2},
         "encoding": {
           "x": {"field": "E", "type": "quantitative", "axis": {"orient": "top", "values": [0.1, 10, 1000], "tickSize": -5, "labels": false, "title": null}},
           "y": {"field": "F", "type": "quantitative", "axis": {"orient": "right", "values": [0.0001,0.0002,0.0003,0.0004,0.0005,0.0006,0.0007,0.0008,0.0009,0.001,0.002,0.003,0.004,0.005,0.006,0.007,0.008,0.009,0.01,0.02,0.03,0.04,0.05,0.06,0.07,0.08,0.09,0.1], "tickSize": {"condition": {"test": "datum.value==0.1||datum.value==0.01||datum.value==0.001||datum.value==0.0001", "value": -5}, "value": -2.5}, "labels": false, "title": null}},
           "color": {"field": "s", "type": "nominal", "scale": {"domain": ["compPS", "Approx"], "range": ["#1a1a1a", "#dc1e23"]}, "legend": null}
         }}
      ],
      "resolve": {"axis": {"x": "independent", "y": "independent"}}
    },
    {
      "width": 207, "height": 145,
      "data": {"name": "spectra"},
      "transform": [{"filter": "datum.m=='lower' && datum.a==60"}],
      "layer": [
        {"transform": [{"filter": "datum.s=='compPS'"}],
         "mark": {"type": "line", "clip": true, "interpolate": "monotone", "strokeWidth": 1.3},
         "encoding": {
           "x": {"field": "E", "type": "quantitative", "scale": {"type": "log", "domain": [0.1, 20000], "nice": false}, "axis": {"orient": "bottom", "values": [0.1, 10, 1000], "tickSize": -5, "labels": false, "title": null}},
           "y": {"field": "F", "type": "quantitative", "scale": {"type": "log", "domain": [0.0001, 0.2], "nice": false}, "axis": {"orient": "left", "values": [0.0001,0.0002,0.0003,0.0004,0.0005,0.0006,0.0007,0.0008,0.0009,0.001,0.002,0.003,0.004,0.005,0.006,0.007,0.008,0.009,0.01,0.02,0.03,0.04,0.05,0.06,0.07,0.08,0.09,0.1], "tickSize": {"condition": {"test": "datum.value==0.1||datum.value==0.01||datum.value==0.001||datum.value==0.0001", "value": -5}, "value": -2.5}, "labels": false, "title": null}},
           "color": {"field": "s", "type": "nominal", "scale": {"domain": ["compPS", "Approx"], "range": ["#1a1a1a", "#dc1e23"]}, "legend": null}
         }},
        {"transform": [{"filter": "datum.s=='Approx'"}],
         "mark": {"type": "line", "clip": true, "interpolate": "monotone", "strokeWidth": 2},
         "encoding": {
           "x": {"field": "E", "type": "quantitative", "axis": {"orient": "top", "values": [0.1, 10, 1000], "tickSize": -5, "labels": false, "title": null}},
           "y": {"field": "F", "type": "quantitative", "axis": {"orient": "right", "values": [0.0001,0.0002,0.0003,0.0004,0.0005,0.0006,0.0007,0.0008,0.0009,0.001,0.002,0.003,0.004,0.005,0.006,0.007,0.008,0.009,0.01,0.02,0.03,0.04,0.05,0.06,0.07,0.08,0.09,0.1], "tickSize": {"condition": {"test": "datum.value==0.1||datum.value==0.01||datum.value==0.001||datum.value==0.0001", "value": -5}, "value": -2.5}, "labels": false, "title": null}},
           "color": {"field": "s", "type": "nominal", "scale": {"domain": ["compPS", "Approx"], "range": ["#1a1a1a", "#dc1e23"]}, "legend": null}
         }}
      ],
      "resolve": {"axis": {"x": "independent", "y": "independent"}}
    },
    {
      "width": 207, "height": 145,
      "data": {"name": "spectra"},
      "transform": [{"filter": "datum.m=='iso' && datum.a==0"}],
      "layer": [
        {"transform": [{"filter": "datum.s=='compPS'"}],
         "mark": {"type": "line", "clip": true, "interpolate": "monotone", "strokeWidth": 1.3},
         "encoding": {
           "x": {"field": "E", "type": "quantitative", "scale": {"type": "log", "domain": [0.1, 20000], "nice": false}, "axis": {"orient": "bottom", "values": [0.1, 10, 1000], "tickSize": -5, "labelPadding": 10, "labelExpr": "datum.value==0.1?'10⁻¹':datum.value==10?'10¹':'10³'", "title": "(eV)", "titleX": 91, "titleAlign": "left", "titlePadding": 11}},
           "y": {"field": "F", "type": "quantitative", "scale": {"type": "log", "domain": [0.0001, 0.2], "nice": false}, "axis": {"orient": "left", "values": [0.0001,0.0002,0.0003,0.0004,0.0005,0.0006,0.0007,0.0008,0.0009,0.001,0.002,0.003,0.004,0.005,0.006,0.007,0.008,0.009,0.01,0.02,0.03,0.04,0.05,0.06,0.07,0.08,0.09,0.1], "tickSize": {"condition": {"test": "datum.value==0.1||datum.value==0.01||datum.value==0.001||datum.value==0.0001", "value": -5}, "value": -2.5}, "labelPadding": 11, "labelExpr": "datum.value==0.1?'10⁻¹':datum.value==0.01?'10⁻²':datum.value==0.001?'10⁻³':datum.value==0.0001?'10⁻⁴':''", "title": "E dN/dE/dΩ", "titleFontStyle": "italic", "titlePadding": 6}},
           "color": {"field": "s", "type": "nominal", "scale": {"domain": ["compPS", "Approx"], "range": ["#1a1a1a", "#dc1e23"]}, "legend": null}
         }},
        {"transform": [{"filter": "datum.s=='Approx'"}],
         "mark": {"type": "line", "clip": true, "interpolate": "monotone", "strokeWidth": 2},
         "encoding": {
           "x": {"field": "E", "type": "quantitative", "axis": {"orient": "top", "values": [0.1, 10, 1000], "tickSize": -5, "labels": false, "title": null}},
           "y": {"field": "F", "type": "quantitative", "axis": {"orient": "right", "values": [0.0001,0.0002,0.0003,0.0004,0.0005,0.0006,0.0007,0.0008,0.0009,0.001,0.002,0.003,0.004,0.005,0.006,0.007,0.008,0.009,0.01,0.02,0.03,0.04,0.05,0.06,0.07,0.08,0.09,0.1], "tickSize": {"condition": {"test": "datum.value==0.1||datum.value==0.01||datum.value==0.001||datum.value==0.0001", "value": -5}, "value": -2.5}, "labels": false, "title": null}},
           "color": {"field": "s", "type": "nominal", "scale": {"domain": ["compPS", "Approx"], "range": ["#1a1a1a", "#dc1e23"]}, "legend": null}
         }},
        {"mark": {"type": "line", "clip": true, "opacity": 0},
         "encoding": {
           "x": {"field": "E", "type": "quantitative", "axis": {"orient": "bottom", "ticks": false, "labels": false, "title": "E", "titleFontStyle": "italic", "titleX": 76, "titleAlign": "left", "titlePadding": 33}},
           "y": {"field": "F", "type": "quantitative", "axis": {"orient": "left", "ticks": false, "labels": false, "title": "Internal iso", "titlePadding": 66}},
           "detail": {"field": "s"}
         }}
      ],
      "resolve": {"axis": {"x": "independent", "y": "independent"}}
    },
    {
      "width": 207, "height": 145,
      "data": {"name": "spectra"},
      "transform": [{"filter": "datum.m=='iso' && datum.a==30"}],
      "layer": [
        {"transform": [{"filter": "datum.s=='compPS'"}],
         "mark": {"type": "line", "clip": true, "interpolate": "monotone", "strokeWidth": 1.3},
         "encoding": {
           "x": {"field": "E", "type": "quantitative", "scale": {"type": "log", "domain": [0.1, 20000], "nice": false}, "axis": {"orient": "bottom", "values": [0.1, 10, 1000], "tickSize": -5, "labelPadding": 10, "labelExpr": "datum.value==0.1?'10⁻¹':datum.value==10?'10¹':'10³'", "title": "(eV)", "titleX": 91, "titleAlign": "left", "titlePadding": 11}},
           "y": {"field": "F", "type": "quantitative", "scale": {"type": "log", "domain": [0.0001, 0.2], "nice": false}, "axis": {"orient": "left", "values": [0.0001,0.0002,0.0003,0.0004,0.0005,0.0006,0.0007,0.0008,0.0009,0.001,0.002,0.003,0.004,0.005,0.006,0.007,0.008,0.009,0.01,0.02,0.03,0.04,0.05,0.06,0.07,0.08,0.09,0.1], "tickSize": {"condition": {"test": "datum.value==0.1||datum.value==0.01||datum.value==0.001||datum.value==0.0001", "value": -5}, "value": -2.5}, "labels": false, "title": null}},
           "color": {"field": "s", "type": "nominal", "scale": {"domain": ["compPS", "Approx"], "range": ["#1a1a1a", "#dc1e23"]}, "legend": null}
         }},
        {"transform": [{"filter": "datum.s=='Approx'"}],
         "mark": {"type": "line", "clip": true, "interpolate": "monotone", "strokeWidth": 2},
         "encoding": {
           "x": {"field": "E", "type": "quantitative", "axis": {"orient": "top", "values": [0.1, 10, 1000], "tickSize": -5, "labels": false, "title": null}},
           "y": {"field": "F", "type": "quantitative", "axis": {"orient": "right", "values": [0.0001,0.0002,0.0003,0.0004,0.0005,0.0006,0.0007,0.0008,0.0009,0.001,0.002,0.003,0.004,0.005,0.006,0.007,0.008,0.009,0.01,0.02,0.03,0.04,0.05,0.06,0.07,0.08,0.09,0.1], "tickSize": {"condition": {"test": "datum.value==0.1||datum.value==0.01||datum.value==0.001||datum.value==0.0001", "value": -5}, "value": -2.5}, "labels": false, "title": null}},
           "color": {"field": "s", "type": "nominal", "scale": {"domain": ["compPS", "Approx"], "range": ["#1a1a1a", "#dc1e23"]}, "legend": null}
         }},
        {"mark": {"type": "line", "clip": true, "opacity": 0},
         "encoding": {
           "x": {"field": "E", "type": "quantitative", "axis": {"orient": "bottom", "ticks": false, "labels": false, "title": "E", "titleFontStyle": "italic", "titleX": 76, "titleAlign": "left", "titlePadding": 33}},
           "y": {"field": "F", "type": "quantitative", "axis": null},
           "detail": {"field": "s"}
         }}
      ],
      "resolve": {"axis": {"x": "independent", "y": "independent"}}
    },
    {
      "width": 207, "height": 145,
      "data": {"name": "spectra"},
      "transform": [{"filter": "datum.m=='iso' && datum.a==60"}],
      "layer": [
        {"transform": [{"filter": "datum.s=='compPS'"}],
         "mark": {"type": "line", "clip": true, "interpolate": "monotone", "strokeWidth": 1.3},
         "encoding": {
           "x": {"field": "E", "type": "quantitative", "scale": {"type": "log", "domain": [0.1, 20000], "nice": false}, "axis": {"orient": "bottom", "values": [0.1, 10, 1000], "tickSize": -5, "labelPadding": 10, "labelExpr": "datum.value==0.1?'10⁻¹':datum.value==10?'10¹':'10³'", "title": "(eV)", "titleX": 91, "titleAlign": "left", "titlePadding": 11}},
           "y": {"field": "F", "type": "quantitative", "scale": {"type": "log", "domain": [0.0001, 0.2], "nice": false}, "axis": {"orient": "left", "values": [0.0001,0.0002,0.0003,0.0004,0.0005,0.0006,0.0007,0.0008,0.0009,0.001,0.002,0.003,0.004,0.005,0.006,0.007,0.008,0.009,0.01,0.02,0.03,0.04,0.05,0.06,0.07,0.08,0.09,0.1], "tickSize": {"condition": {"test": "datum.value==0.1||datum.value==0.01||datum.value==0.001||datum.value==0.0001", "value": -5}, "value": -2.5}, "labels": false, "title": null}},
           "color": {"field": "s", "type": "nominal", "scale": {"domain": ["compPS", "Approx"], "range": ["#1a1a1a", "#dc1e23"]}, "legend": null}
         }},
        {"transform": [{"filter": "datum.s=='Approx'"}],
         "mark": {"type": "line", "clip": true, "interpolate": "monotone", "strokeWidth": 2},
         "encoding": {
           "x": {"field": "E", "type": "quantitative", "axis": {"orient": "top", "values": [0.1, 10, 1000], "tickSize": -5, "labels": false, "title": null}},
           "y": {"field": "F", "type": "quantitative", "axis": {"orient": "right", "values": [0.0001,0.0002,0.0003,0.0004,0.0005,0.0006,0.0007,0.0008,0.0009,0.001,0.002,0.003,0.004,0.005,0.006,0.007,0.008,0.009,0.01,0.02,0.03,0.04,0.05,0.06,0.07,0.08,0.09,0.1], "tickSize": {"condition": {"test": "datum.value==0.1||datum.value==0.01||datum.value==0.001||datum.value==0.0001", "value": -5}, "value": -2.5}, "labels": false, "title": null}},
           "color": {"field": "s", "type": "nominal", "scale": {"domain": ["compPS", "Approx"], "range": ["#1a1a1a", "#dc1e23"]}, "legend": null}
         }},
        {"mark": {"type": "line", "clip": true, "opacity": 0},
         "encoding": {
           "x": {"field": "E", "type": "quantitative", "axis": {"orient": "bottom", "ticks": false, "labels": false, "title": "E", "titleFontStyle": "italic", "titleX": 76, "titleAlign": "left", "titlePadding": 33}},
           "y": {"field": "F", "type": "quantitative", "axis": null},
           "detail": {"field": "s"}
         }}
      ],
      "resolve": {"axis": {"x": "independent", "y": "independent"}}
    }
  ]
}
